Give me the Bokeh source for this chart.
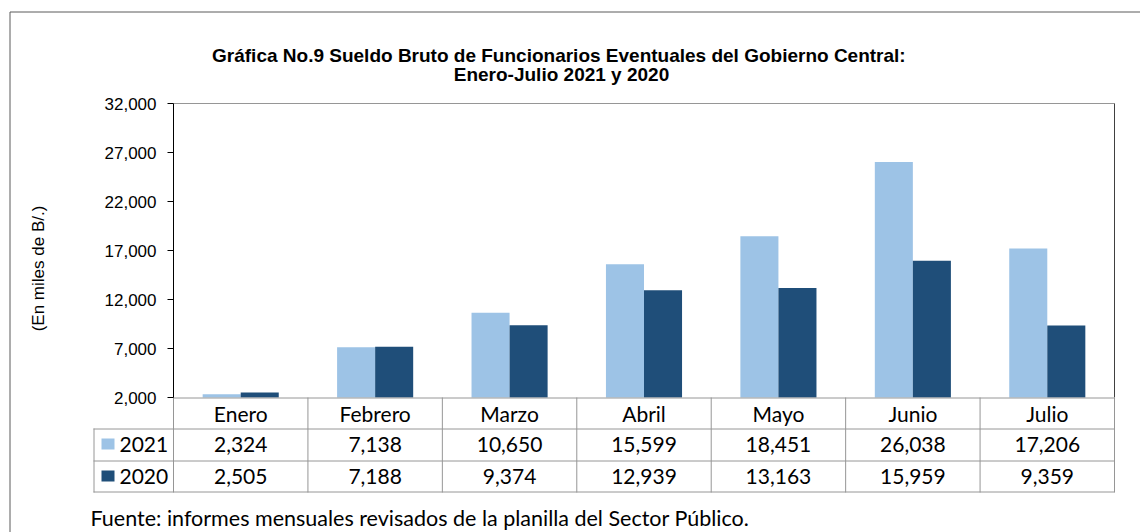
import math
from bokeh.plotting import figure
from bokeh.models import Range1d, FixedTicker, NumeralTickFormatter, ColumnDataSource
from bokeh.transform import dodge
from bokeh.core.properties import value
from bokeh.embed import file_html
from bokeh.resources import INLINE

# ---------------- data ----------------
months = ["Enero", "Febrero", "Marzo", "Abril", "Mayo", "Junio", "Julio"]
v2021 = [2324, 7138, 10650, 15599, 18451, 26038, 17206]
v2020 = [2505, 7188, 9374, 12939, 13163, 15959, 9359]
series_names = ["2021", "2020"]
y_ticks = [2000, 7000, 12000, 17000, 22000, 27000, 32000]
title_lines = ["Gráfica No.9 Sueldo Bruto de Funcionarios Eventuales del  Gobierno Central:",
               "Enero-Julio 2021 y 2020"]
y_label = "(En miles de B/.)"
source_note = "Fuente: informes mensuales revisados de la planilla del Sector Público."

# ---------------- style / layout (canvas pixels) ----------------
C21 = "#9DC3E6"
C20 = "#1F4E79"
GRID = "#969696"
TABLE_FONT = "Lato"
AXIS_FONT = "Liberation Sans"

W, H = 1140, 532
FL, FR, FT = 173, 1114, 103                 # plot area left / right / top
PLOT_BOTTOM = 397                           # y of the axis minimum
ROWS = [397, 428, 460, 492]                 # table row boundaries
LEG_L = 93

n = len(months)
xc = [i + 0.5 for i in range(n)]            # category centres on the x scale
y_min, y_max = y_ticks[0], y_ticks[-1]
cat_w = (FR - FL) / n
k = (y_max - y_min) / (PLOT_BOTTOM - FT)

p = figure(width=W, height=H,
           x_range=Range1d(-FL / cat_w, n + (W - FR) / cat_w),
           y_range=Range1d(y_min - (H - PLOT_BOTTOM) * k, y_max + FT * k),
           output_backend="svg", toolbar_location=None,
           x_axis_location=None,
           min_border_left=0, min_border_right=0, min_border_top=0, min_border_bottom=0)
p.extra_x_ranges = {"px": Range1d(0, W)}
p.extra_y_ranges = {"px": Range1d(H, 0)}
p.grid.visible = False
p.outline_line_color = None
p.background_fill_color = "white"
p.border_fill_color = "white"

PX = dict(x_range_name="px", y_range_name="px")

# outer border of the chart
p.segment(x0=[9.5, 9.5], y0=[11.5, 11.5], x1=[9.5, W], y1=[H, 11.5], line_color="#5a5a5a", **PX)

# bars
src = ColumnDataSource(dict(x=xc, m=months, a=v2021, b=v2020))
bw = 0.283
p.vbar(x=dodge("x", -bw / 2), top="a", bottom=y_min, width=bw,
       source=src, fill_color=C21, line_color=None)
p.vbar(x=dodge("x", bw / 2), top="b", bottom=y_min, width=bw,
       source=src, fill_color=C20, line_color=None)

# plot area border (top gray, right dark)
p.segment(x0=[0], x1=[n], y0=[y_max], y1=[y_max], line_color=GRID)
p.segment(x0=[n], x1=[n], y0=[y_min], y1=[y_max], line_color="#404040")

# y axis
ax = p.yaxis[0]
ax.fixed_location = 0
ax.ticker = FixedTicker(ticks=y_ticks)
ax.formatter = NumeralTickFormatter(format="0,0")
ax.bounds = (y_min, y_max)
ax.axis_line_color = "black"
ax.major_tick_line_color = "black"
ax.major_tick_out = 6
ax.major_tick_in = 0
ax.minor_tick_line_color = None
ax.major_label_text_font = AXIS_FONT
ax.major_label_text_font_size = "17px"
ax.major_label_text_color = "black"
ax.major_label_standoff = 11

# data table grid
p.segment(x0=list(range(n + 1)), x1=list(range(n + 1)), y0=[ROWS[0]] * (n + 1), y1=[ROWS[-1]] * (n + 1),
          y_range_name="px", line_color=GRID)
p.segment(x0=[FL, LEG_L, LEG_L, LEG_L + 0.5], x1=[FR, FR, FR, LEG_L + 0.5],
          y0=[ROWS[0] + 0.5, ROWS[1] + 0.5, ROWS[2] + 0.5, ROWS[1]],
          y1=[ROWS[0] + 0.5, ROWS[1] + 0.5, ROWS[2] + 0.5, ROWS[3]], line_color=GRID, **PX)
p.segment(x0=[LEG_L], x1=[FR], y0=[ROWS[3] - 0.5], y1=[ROWS[3] - 0.5], line_color=GRID, **PX)

# table text
row_centers = [(ROWS[i] + ROWS[i + 1]) / 2 for i in range(3)]
rows_text = [months, [f"{v:,}" for v in v2021], [f"{v:,}" for v in v2020]]
for yc, txt in zip(row_centers, rows_text):
    p.text(x=xc, y=[yc] * n, text=txt, y_range_name="px",
           text_font=value(TABLE_FONT), text_font_size="21px",
           text_align="center", text_baseline="middle", text_color="black")

# legend column of the table
leg_y = row_centers[1:]
p.quad(left=[101] * 2, right=[114] * 2, top=[y - 6 for y in leg_y], bottom=[y + 5 for y in leg_y],
       fill_color=[C21, C20], line_color=None, **PX)
p.text(x=[119] * 2, y=leg_y, text=series_names, text_font=value(TABLE_FONT), text_font_size="21px",
       text_align="left", text_baseline="middle", text_color="black", **PX)

# title
p.text(x=[561, 561], y=[55, 74], text=title_lines, text_font=value(AXIS_FONT),
       text_font_style="bold", text_font_size="19px", text_align="center",
       text_baseline="middle", text_color="black", **PX)

# y label
p.text(x=[38], y=[268], text=[y_label], angle=math.pi / 2, text_font=value(AXIS_FONT),
       text_font_size="17px", text_align="center", text_baseline="middle",
       text_color="black", **PX)

# footnote
p.text(x=[90], y=[517], text=[source_note], text_font=value(TABLE_FONT),
       text_font_size="21.5px", text_align="left", text_baseline="middle",
       text_color="black", **PX)

open("out.html", "w").write(file_html(p, INLINE))
